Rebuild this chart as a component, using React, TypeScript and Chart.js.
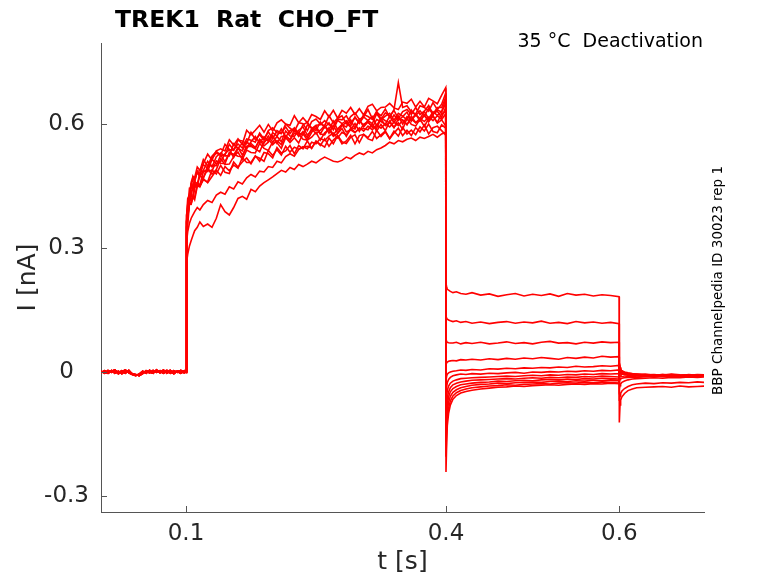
import React, { useEffect, useRef } from "react";
import { Chart, registerables } from "chart.js";

Chart.register(...registerables);

// ---------- texts ----------
const titleText = "TREK1  Rat  CHO_FT";
const noteText = "35 °C  Deactivation";
const sideText = "BBP Channelpedia ID 30023 rep 1";
const xLabel = "t [s]";
const yLabel = "I [nA]";

// ---------- ticks ----------
const xTicks = [0.1, 0.4, 0.6];
const yTicks = [-0.3, 0, 0.3, 0.6];

// ---------- time grids (s) ----------
const baseT = [0.002, 0.006, 0.01, 0.014, 0.018, 0.022, 0.026, 0.03, 0.034, 0.038, 0.042, 0.046, 0.05, 0.054, 0.058, 0.062, 0.066, 0.07, 0.074, 0.078, 0.082, 0.086, 0.09, 0.094, 0.098, 0.1];
const actT = [0.1003, 0.101, 0.102, 0.104, 0.106, 0.108, 0.11, 0.113, 0.116, 0.12, 0.125, 0.13, 0.135, 0.14, 0.145, 0.15, 0.155, 0.16, 0.165, 0.17, 0.175, 0.18, 0.185, 0.19, 0.195, 0.2, 0.205, 0.21, 0.215, 0.22, 0.225, 0.23, 0.235, 0.24, 0.245, 0.25, 0.255, 0.26, 0.265, 0.27, 0.275, 0.28, 0.285, 0.29, 0.295, 0.3, 0.305, 0.31, 0.315, 0.32, 0.325, 0.33, 0.335, 0.34, 0.345, 0.35, 0.355, 0.36, 0.365, 0.37, 0.375, 0.38, 0.385, 0.39, 0.395, 0.3997];
const tailT = [0.4, 0.4008, 0.4015, 0.403, 0.405, 0.408, 0.412, 0.417, 0.423, 0.43, 0.44, 0.45, 0.46, 0.47, 0.48, 0.49, 0.5, 0.51, 0.52, 0.53, 0.54, 0.55, 0.56, 0.57, 0.58, 0.59, 0.5997];
const postT = [0.6, 0.6008, 0.6015, 0.603, 0.606, 0.61, 0.615, 0.62, 0.63, 0.64, 0.65, 0.66, 0.67, 0.68, 0.69, 0.698];

// ---------- currents (pA) ----------
const baseA = [2, -3, 4, -1, 3, -4, 1, 5, -2, -6, -9, -5, 2, -3, 4, -2, 3, -1, 5, -3, 2, -4, 3, 1, -2, 2];
const baseB = [-2, 3, -1, 4, -3, 2, -4, 3, 0, -4, -7, -8, -3, 2, -2, 4, -1, 3, -3, 2, 4, -2, 1, -3, 3, 1];
const baseC = [1, 0, -3, 2, 5, -2, 3, -3, 4, -5, -6, -9, -4, 3, 0, -3, 5, -2, 1, 4, -3, 3, -1, 4, 0, -1];

const act1 = [300,380,397,445,446,472,460,486,487,514,498,522,534,525,551,538,537,561,559,552,580,562,574,561,584,591,579,577,600,590,582,603,601,584,606,612,600,596,620,603,614,620,601,618,627,611,617,635,613,628,620,636,616,635,700,640,644,629,624,644,640,631,652,635,648,675];
const act2 = [310,359,404,422,451,441,464,483,472,488,510,496,521,530,523,523,552,540,554,540,557,570,554,569,558,579,571,588,568,584,589,578,574,598,591,584,605,591,603,586,609,601,608,595,617,602,617,608,601,625,610,619,626,609,626,619,610,634,620,632,619,638,623,634,629,650];
const act3 = [290,363,381,405,437,443,462,452,475,469,499,500,499,525,509,529,525,543,525,545,553,543,562,547,556,572,553,570,571,562,586,570,582,567,589,576,585,596,578,596,578,597,603,592,588,611,593,605,592,611,606,599,619,603,619,600,618,611,624,607,621,606,626,631,616,640];
const act4 = [295,346,387,422,419,425,453,458,453,484,490,486,511,505,504,531,527,522,521,546,546,540,533,557,564,550,560,550,572,561,578,576,563,561,580,590,576,574,591,574,588,599,581,586,601,582,600,605,594,590,613,596,604,591,613,610,598,619,603,608,622,606,619,604,625,630];
const act5 = [275,315,340,360,372,380,388,398,392,405,415,410,428,435,430,448,443,460,455,470,478,472,486,484,497,495,510,506,521,528,522,538,545,540,556,552,565,560,571,578,566,580,574,586,579,591,583,595,586,598,590,601,593,605,596,609,599,612,603,614,606,617,608,620,611,625];
const act6 = [285,332,374,410,408,422,423,453,450,468,458,473,488,476,497,487,501,493,519,507,507,523,510,531,528,518,543,530,535,548,528,548,540,559,541,558,551,544,566,552,572,557,553,568,574,555,575,567,582,565,574,583,565,583,571,592,576,585,574,593,583,600,582,579,598,590];
const act7 = [305,366,381,423,424,454,451,452,483,487,485,515,504,509,528,538,519,541,535,557,548,541,563,554,571,556,570,557,583,571,570,585,593,573,584,595,576,594,586,607,586,598,593,610,590,609,596,609,618,596,615,608,603,622,609,618,629,607,623,613,630,613,630,621,630,660];
const act8 = [240,265,285,305,318,330,342,350,363,352,358,350,372,405,388,380,398,420,425,418,442,436,450,458,465,472,480,488,484,495,490,502,497,503,510,506,514,520,515,510,508,512,520,516,524,530,526,534,530,538,542,548,556,552,560,557,563,566,560,568,565,570,575,568,576,580];
const act9 = [280,351,372,418,413,419,444,458,448,470,490,479,490,516,502,503,521,532,514,537,531,530,553,541,536,557,555,541,567,555,567,554,577,561,568,580,561,579,587,570,577,589,570,590,580,588,589,586,600,583,599,584,607,592,603,587,614,599,595,612,594,613,620,602,610,595];
const act10 = [330,366,406,419,454,449,467,486,476,502,493,518,530,524,525,551,537,552,542,564,561,556,578,564,581,564,584,578,593,577,591,577,598,604,589,597,598,608,598,594,612,610,620,602,616,602,623,618,611,631,611,627,619,633,613,630,635,623,640,623,631,645,624,640,640,665];
const act11 = [285,336,357,407,406,426,417,449,449,465,460,489,479,500,483,480,508,496,508,518,504,522,517,510,536,524,538,525,546,532,544,539,544,546,542,559,548,564,546,561,571,552,559,573,552,572,575,564,560,585,570,581,564,578,590,572,585,572,591,581,598,576,591,595,584,573];
const act12 = [320,377,420,428,459,473,470,496,488,504,527,513,535,540,535,562,549,564,551,585,574,585,597,580,599,583,603,610,600,597,620,603,615,603,623,618,611,632,617,633,614,633,626,640,623,637,622,643,648,632,640,641,650,639,635,653,650,660,641,655,641,662,656,649,670,688];

const tail1 = [215, 205, 200, 198, 195, 192, 194, 190, 188, 192, 186, 189, 183, 187, 190, 184, 188, 185, 189, 183, 190, 186, 188, 184, 187, 185, 182];
const tail2 = [135, 130, 128, 126, 124, 122, 124, 120, 122, 118, 121, 117, 120, 122, 118, 121, 119, 123, 118, 120, 117, 122, 119, 121, 118, 120, 117];
const tail3 = [78, 74, 72, 71, 70, 70, 72, 68, 71, 69, 72, 68, 70, 73, 69, 71, 68, 72, 74, 70, 71, 68, 72, 70, 73, 71, 72];
const tail4 = [20, 22, 24, 26, 27, 28, 27, 30, 29, 31, 29, 32, 30, 33, 31, 34, 32, 35, 33, 31, 35, 33, 36, 34, 38, 36, 37];
const tail5 = [-20, -10, -5, -2, 0, 2, 3, 5, 4, 6, 5, 8, 7, 9, 8, 10, 9, 11, 10, 12, 11, 14, 12, 13, 15, 14, 16];
const tail6 = [-50, -35, -26, -18, -13, -9, -7, -5, -6, -4, -5, -3, -4, -2, -1, -3, 0, -1, 1, 0, 2, 1, 3, 2, 4, 3, 5];
const tail7 = [-80, -58, -45, -34, -27, -22, -19, -16, -15, -14, -13, -12, -11, -10, -11, -9, -8, -9, -7, -8, -6, -7, -5, -6, -4, -5, -4];
const tail8 = [-110, -80, -62, -48, -38, -31, -27, -24, -22, -20, -19, -18, -17, -16, -17, -15, -14, -15, -13, -14, -12, -13, -11, -12, -10, -11, -12];
const tail9 = [-140, -100, -78, -60, -48, -40, -35, -31, -29, -27, -25, -24, -22, -23, -21, -20, -21, -19, -18, -19, -17, -18, -16, -17, -15, -16, -17];
const tail10 = [-170, -120, -94, -73, -59, -49, -43, -38, -35, -32, -30, -29, -27, -28, -26, -25, -24, -25, -23, -22, -23, -21, -22, -20, -21, -19, -20];
const tail11 = [-205, -145, -112, -87, -70, -58, -50, -45, -41, -38, -36, -34, -33, -31, -32, -30, -29, -28, -29, -27, -26, -27, -25, -26, -24, -25, -24];
const tail12 = [-242, -170, -130, -100, -80, -66, -57, -51, -47, -44, -41, -39, -37, -36, -34, -35, -33, -32, -31, -32, -30, -29, -30, -28, -29, -27, -28];

const post1 = [-122, -80, -68, -60, -52, -45, -41, -38, -37, -36, -35, -37, -34, -36, -35, -34];
const post2 = [-70, -58, -52, -46, -40, -35, -31, -29, -27, -28, -26, -27, -25, -26, -24, -25];
const post3 = [-40, -33, -29, -25, -22, -19, -17, -16, -15, -14, -15, -13, -14, -12, -13, -12];
const post4 = [-20, -18, -16, -15, -14, -13, -12, -13, -11, -12, -10, -11, -12, -10, -11, -10];
const post5 = [-8, -9, -10, -11, -12, -11, -10, -12, -11, -9, -10, -12, -9, -11, -10, -9];
const post6 = [5, 0, -3, -5, -7, -8, -9, -8, -10, -9, -11, -8, -10, -9, -7, -9];
const post7 = [10, 4, 0, -3, -5, -6, -7, -9, -8, -10, -8, -9, -11, -8, -9, -10];
const post8 = [12, 6, 2, -1, -4, -5, -6, -8, -7, -9, -10, -8, -9, -7, -10, -8];
const post9 = [15, 8, 3, 0, -3, -5, -6, -7, -9, -8, -6, -9, -8, -10, -7, -9];
const post10 = [18, 9, 4, 1, -2, -4, -6, -5, -8, -7, -9, -6, -8, -7, -9, -8];
const post11 = [20, 10, 5, 2, -1, -3, -5, -6, -5, -8, -6, -7, -9, -6, -8, -7];
const post12 = [22, 12, 6, 3, 0, -2, -4, -5, -7, -6, -8, -5, -7, -8, -6, -7];

const sweeps = [
  [baseA, act1, tail1, post1],
  [baseB, act2, tail2, post2],
  [baseC, act3, tail3, post3],
  [baseA, act4, tail4, post4],
  [baseB, act5, tail5, post5],
  [baseC, act6, tail6, post6],
  [baseA, act7, tail7, post7],
  [baseB, act8, tail8, post8],
  [baseC, act9, tail9, post9],
  [baseA, act10, tail10, post10],
  [baseB, act11, tail11, post11],
  [baseC, act12, tail12, post12],
];

const segTimes = [baseT, actT, tailT, postT];

function sweepPoints(sw: number[][]) {
  const pts: { x: number; y: number }[] = [];
  sw.forEach((vals, s) => {
    const ts = segTimes[s];
    ts.forEach((t, i) => {
      if (vals[i] !== undefined) pts.push({ x: t, y: vals[i] / 1000 });
    });
  });
  return pts;
}

const FONT = "'DejaVu Sans', sans-serif";

const decor = {
  id: "decor",
  afterDraw(chart: any) {
    const { ctx, chartArea: a, scales } = chart;
    ctx.save();
    ctx.strokeStyle = "#555";
    ctx.lineWidth = 1;
    ctx.beginPath();
    xTicks.forEach((v) => {
      const px = Math.round(scales.x.getPixelForValue(v)) + 0.5;
      ctx.moveTo(px, a.bottom);
      ctx.lineTo(px, a.bottom - 6);
    });
    yTicks.forEach((v) => {
      const py = Math.round(scales.y.getPixelForValue(v)) + 0.5;
      ctx.moveTo(a.left, py);
      ctx.lineTo(a.left + 6, py);
    });
    ctx.stroke();

    ctx.fillStyle = "#000";
    ctx.textBaseline = "alphabetic";
    ctx.textAlign = "left";
    ctx.font = `bold 23.5px ${FONT}`;
    ctx.fillText(titleText, 115, 27);

    ctx.font = `19px ${FONT}`;
    ctx.textAlign = "right";
    ctx.fillText(noteText, a.right - 1, 47);

    ctx.save();
    ctx.translate(722, 395);
    ctx.rotate(-Math.PI / 2);
    ctx.textAlign = "left";
    ctx.font = `13.5px ${FONT}`;
    ctx.fillText(sideText, 0, 0);
    ctx.restore();
    ctx.restore();
  },
};

export default function App() {
  const ref = useRef<HTMLCanvasElement | null>(null);
  useEffect(() => {
    document.body.style.margin = "0";
    const canvas = ref.current;
    if (!canvas) return;
    const datasets = sweeps.map((sw, k) => ({
      label: `sweep ${k + 1}`,
      data: sweepPoints(sw),
      borderColor: "rgb(255,0,0)",
      borderWidth: 1.6,
      pointRadius: 0,
      fill: false,
      tension: 0,
    }));
    const chart = new Chart(canvas, {
      type: "line",
      data: { datasets },
      options: {
        responsive: false,
        animation: false,
        events: [],
        layout: { padding: { left: 0, top: 43, right: 74, bottom: 0 } },
        plugins: { legend: { display: false }, tooltip: { enabled: false }, title: { display: false } },
        scales: {
          x: {
            type: "linear",
            min: 0.00192,
            max: 0.6977,
            afterBuildTicks: (s: any) => {
              s.ticks = xTicks.map((v) => ({ value: v }));
            },
            afterFit: (s: any) => {
              s.height = 71;
            },
            ticks: {
              color: "#262626",
              font: { family: FONT, size: 23 },
              padding: 8,
              maxRotation: 0,
              autoSkip: false,
              callback: (v: any) => String(v),
            },
            grid: { display: true, drawOnChartArea: false, drawTicks: false },
            border: { display: true, color: "#555", width: 1 },
            title: {
              display: true,
              text: xLabel,
              color: "#262626",
              font: { family: FONT, size: 25 },
              padding: { top: 0, bottom: 6 },
            },
          },
          y: {
            type: "linear",
            min: -0.3387,
            max: 0.796,
            afterBuildTicks: (s: any) => {
              s.ticks = yTicks.map((v) => ({ value: v }));
            },
            afterFit: (s: any) => {
              s.width = 101;
            },
            ticks: {
              color: "#262626",
              font: { family: FONT, size: 23 },
              padding: 12,
              crossAlign: "center",
              autoSkip: false,
              callback: (v: any) => String(v),
            },
            grid: { display: true, drawOnChartArea: false, drawTicks: false },
            border: { display: true, color: "#555", width: 1 },
            title: {
              display: true,
              text: yLabel,
              color: "#262626",
              font: { family: FONT, size: 25 },
              padding: { top: 13, bottom: 0 },
            },
          },
        },
      },
      plugins: [decor],
    } as any);
    return () => chart.destroy();
  }, []);
  return (
    <div style={{ position: "fixed", left: 0, top: 0, width: 778, height: 583, background: "#fff" }}>
      <canvas ref={ref} width={778} height={583} style={{ display: "block" }} />
    </div>
  );
}
